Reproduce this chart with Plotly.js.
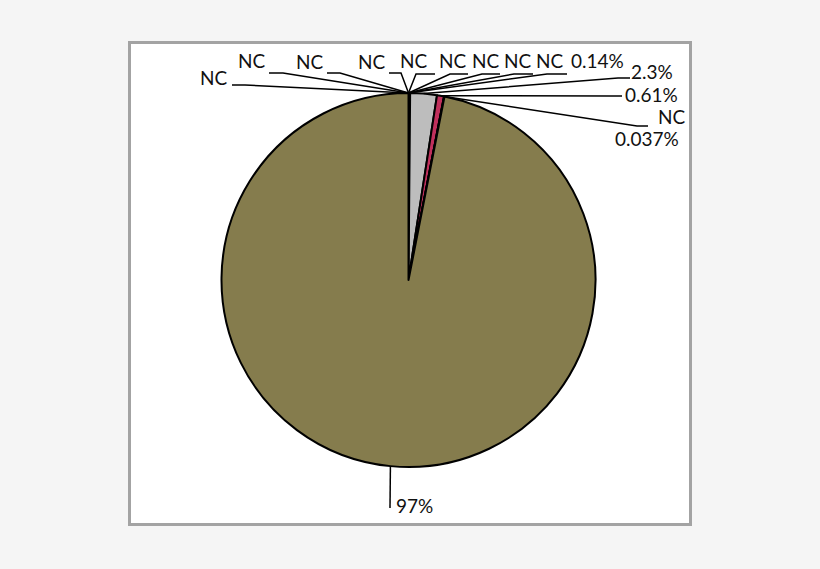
<!DOCTYPE html>
<html>
<head>
<meta charset="utf-8">
<script src="https://cdn.plot.ly/plotly-3.0.1.min.js"></script>
<style>html,body{margin:0;padding:0;background:#f5f5f5}</style>
</head>
<body>
<div id="chart" style="width:820px;height:569px"></div>
<script>
// slices, clockwise from 12 o'clock (NC = no contribution)
var sliceNames = ['NC a', 'NC b', 'NC c', 'NC d', 'NC e', 'NC f', 'NC g', 'NC h', 'NC i',
                  'p1', 'p2', 'p3', 'NC j', 'p4', 'p5'];
var sliceValues = [0, 0, 0, 0, 0, 0, 0, 0, 0, 0.14, 2.3, 0.61, 0, 0.037, 97];
var sliceLabels = ['NC', 'NC', 'NC', 'NC', 'NC', 'NC', 'NC', 'NC', 'NC',
                   '0.14%', '2.3%', '0.61%', 'NC', '0.037%', '97%'];
var sliceColors = ['#4f81bd', '#4f81bd', '#4f81bd', '#4f81bd', '#4f81bd', '#4f81bd', '#4f81bd', '#4f81bd', '#4f81bd',
                   '#4f6228', '#bdbdbd', '#c0305c', '#4f81bd', '#9bbb59', '#857c4d'];

var W = 820, H = 569;
var cx = 408.5, cy = 280, r = 187;
function px(x) { return x / W; }
function py(y) { return 1 - y / H; }

// label centres (pixels) and leader segments [xStart, xEnd, y] -> slice edge
var labelPos = [[214, 77], [252, 60], [310, 62], [372, 61], [414, 60], [453, 60], [486, 60], [518, 60], [550, 60],
                [597, 60], [652, 72], [651, 94], [672, 117], [647, 138], [414, 505]];
var leaders = [[232, 245, 85], [269, 283, 73], [327, 340, 73], [389, 401, 73], [435, 416, 74], [468, 450, 74],
               [500, 482, 74], [533, 514, 74], [567, 547, 74], null, [630, 618, 78], [622, 611, 96], null,
               [648, 637, 126], [390, 390, 508]];

var shapes = [{
  type: 'rect', xref: 'paper', yref: 'paper', layer: 'below',
  x0: px(129.5), x1: px(690.5), y0: py(42.5), y1: py(524.5),
  line: {color: '#a3a3a3', width: 3}, fillcolor: '#ffffff'
}];
var annotations = [];

var total = sliceValues.reduce(function (a, b) { return a + b; }, 0);
var cum = 0;
sliceValues.forEach(function (v, i) {
  var mid = (cum + v / 2) / total * 2 * Math.PI;
  cum += v;
  var tx = cx + r * Math.sin(mid), ty = cy - r * Math.cos(mid);
  annotations.push({
    xref: 'paper', yref: 'paper', x: px(labelPos[i][0]), y: py(labelPos[i][1]),
    xanchor: 'center', yanchor: 'middle', showarrow: false,
    text: sliceLabels[i], font: {family: 'Lato', size: 19, color: '#111111'}
  });
  var l = leaders[i];
  if (l) {
    shapes.push({
      type: 'path', xref: 'paper', yref: 'paper', layer: 'above',
      path: 'M' + px(l[0]) + ',' + py(l[2]) + ' L' + px(l[1]) + ',' + py(l[2]) + ' L' + px(tx) + ',' + py(ty),
      line: {color: '#000000', width: 1.5}
    });
  }
});

var data = [{
  type: 'pie',
  labels: sliceNames,
  values: sliceValues,
  sort: false,
  direction: 'clockwise',
  rotation: 0,
  textinfo: 'none',
  hoverinfo: 'skip',
  showlegend: false,
  marker: {colors: sliceColors, line: {color: '#000000', width: 2}},
  domain: {x: [px(cx - r), px(cx + r)], y: [py(cy + r), py(cy - r)]}
}];

var layout = {
  width: W, height: H,
  margin: {l: 0, r: 0, t: 0, b: 0},
  paper_bgcolor: '#f5f5f5',
  showlegend: false,
  shapes: shapes,
  annotations: annotations
};

Plotly.newPlot('chart', data, layout, {staticPlot: true});
</script>
</body>
</html>
